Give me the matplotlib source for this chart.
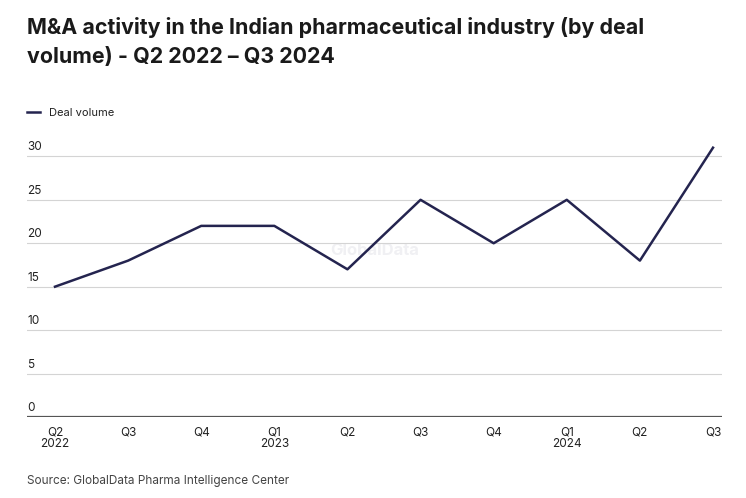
import matplotlib.pyplot as plt
from matplotlib import transforms

plt.rcParams['font.family'] = ['Inter', 'DejaVu Sans']

quarters = ['Q2\n2022', 'Q3', 'Q4', 'Q1\n2023', 'Q2', 'Q3', 'Q4', 'Q1\n2024', 'Q2', 'Q3']
deal_volume = [15, 18, 22, 22, 17, 25, 20, 25, 18, 31]
y_ticks = [0, 5, 10, 15, 20, 25, 30]

fig = plt.figure(figsize=(7.46, 4.98), dpi=100)
ax = fig.add_axes([27 / 746, 81 / 498, 695 / 746, 278 / 498])

x = list(range(len(quarters)))
ax.plot(x, deal_volume, color='#24244f', linewidth=1.8, label='Deal volume', zorder=3)

ax.set_xlim(-0.383, 9.123)
ax.set_ylim(0, 32)

for t in y_ticks[1:]:
    ax.axhline(t, color='#d4d4d4', linewidth=0.8, zorder=1)
ax.axhline(0, color='#555555', linewidth=1.6, zorder=2)

trans = transforms.blended_transform_factory(ax.transAxes, ax.transData)
for t in y_ticks:
    ax.text(0, t + 0.35, str(t), transform=trans, ha='left', va='bottom',
            fontsize=8.5, color='#222222')

ax.set_xticks(x)
ax.set_xticklabels(quarters, fontsize=8.5, color='#222222', linespacing=0.95)
ax.tick_params(axis='x', length=0, pad=7)
ax.set_yticks([])
for s in ax.spines.values():
    s.set_visible(False)

ax.text(0.5, 0.6, 'GlobalData', transform=ax.transAxes, ha='center', va='center',
        fontsize=12, fontweight='bold', color='#f0f0f3', zorder=0)

fig.text(27 / 746, 1 - 17 / 498,
         'M&A activity in the Indian pharmaceutical industry (by deal\nvolume) - Q2 2022 \u2013 Q3 2024',
         ha='left', va='top', fontsize=15.4, fontweight='bold', color='#1a1a1a', linespacing=1.55)

leg = fig.legend(loc='upper left', bbox_to_anchor=(17 / 746, 1 - 98 / 498), frameon=False,
                 fontsize=8, handlelength=1.2, handletextpad=0.8)
for txt in leg.get_texts():
    txt.set_color('#222222')

fig.text(27 / 746, 1 - 481 / 498, 'Source: GlobalData Pharma Intelligence Center',
         ha='left', va='center', fontsize=8.5, color='#444444')

fig.savefig('out.png', dpi=100, facecolor='white')
